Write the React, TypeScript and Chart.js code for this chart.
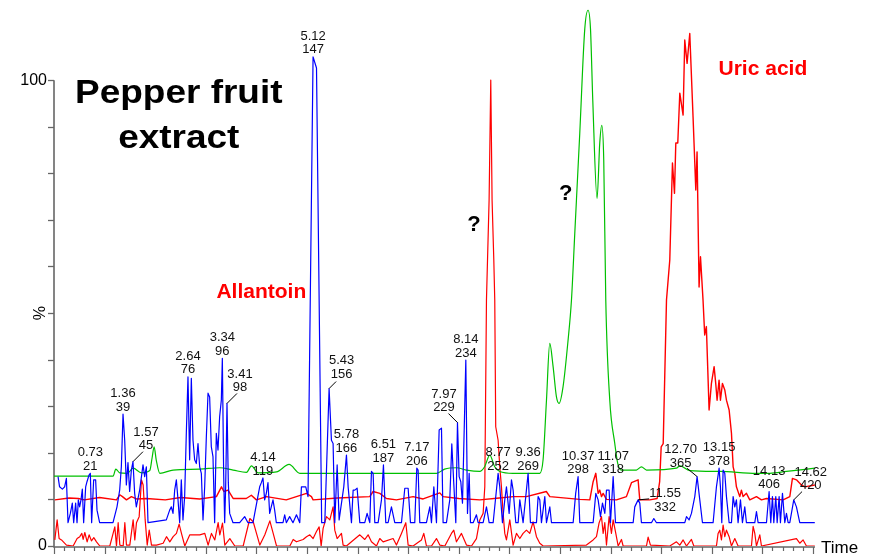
import React, { useEffect, useRef } from 'react';
import { Chart, registerables } from 'chart.js';

Chart.register(...registerables);

// ---- data: [time (min), relative intensity (%)] ----
const blueTrace: [number, number][] = [
  [0.08,14.9],[0.11,12.7],[0.165,12.2],[0.21,12.7],[0.245,14.5],[0.277,5.0],[0.323,7.0],[0.362,9.2],[0.389,5.0],[0.428,9.2],[0.455,5.0],[0.481,9.9],[0.507,8.4],[0.534,9.9],[0.56,12.2],[0.586,5.0],[0.626,12.7],[0.652,13.8],[0.692,15.2],[0.718,15.6],[0.744,5.0],[0.784,14.2],[0.823,14.2],[0.85,7.7],[0.902,5.0],
  [1.166,5.0],[1.245,8.4],[1.298,12.0],[1.331,17.0],[1.364,28.3],[1.397,22.7],[1.43,13.1],[1.462,17.9],[1.495,11.7],[1.529,16.3],[1.561,18.1],[1.594,11.3],[1.627,8.4],[1.693,12.0],[1.759,17.4],[1.792,14.9],[1.825,17.0],[1.858,5.0],
  [2.22,5.6],[2.286,7.7],[2.319,8.4],[2.352,7.0],[2.385,12.0],[2.418,14.2],[2.451,9.9],[2.484,5.0],[2.516,14.2],[2.549,5.6],[2.582,10.6],[2.615,24.2],[2.648,36.3],[2.681,18.5],[2.714,36.0],[2.747,22.7],[2.78,18.5],[2.813,17.7],[2.846,22.0],[2.879,17.0],[2.912,15.6],[2.945,5.6],[2.978,12.7],
  [3.011,23.5],[3.044,32.8],[3.076,32.0],[3.109,21.3],[3.142,19.2],[3.175,5.0],[3.208,24.2],[3.241,20.6],[3.274,27.8],[3.307,31.3],[3.327,40.3],[3.353,15.6],[3.373,5.0],[3.393,12.7],[3.419,30.6],[3.445,13.6],[3.472,7.0],[3.538,5.0],[3.67,5.0],[3.768,6.3],[3.834,5.0],[3.933,5.0],
  [4.065,12.7],[4.098,13.6],[4.13,14.6],[4.163,9.9],[4.196,11.3],[4.229,13.6],[4.262,7.0],[4.328,9.9],[4.361,7.7],[4.394,5.0],[4.526,5.0],[4.559,6.7],[4.592,5.0],[4.657,6.3],[4.723,5.0],[4.792,6.7],[4.857,5.0],[4.89,12.7],[4.976,12.7],
  [5.02,10.6],[5.12,105],[5.188,102.6],[5.29,5.0],[5.352,5.0],[5.437,33.8],[5.483,22.7],[5.516,22.0],[5.549,5.0],[5.596,17.4],[5.635,5.6],[5.727,12.7],[5.78,19.5],[5.813,12.7],[5.879,5.0],[5.912,12.0],[5.945,12.0],[5.991,12.4],
  [6.044,5.0],[6.142,5.0],[6.188,7.0],[6.241,5.0],[6.274,16.0],[6.307,15.6],[6.34,5.0],[6.406,5.0],[6.472,9.9],[6.511,17.4],[6.557,5.0],[6.603,5.0],[6.669,8.4],[6.735,5.0],[6.867,5.0],[6.933,12.4],[6.999,12.4],
  [7.045,5.0],[7.13,5.0],[7.17,16.7],[7.196,16.3],[7.229,5.0],[7.361,5.0],[7.427,8.4],[7.46,5.0],[7.507,12.7],[7.559,5.0],[7.612,24.9],[7.658,25.3],[7.69,5.0],[7.756,5.0],[7.822,9.9],[7.862,21.9],[7.901,13.4],[7.941,5.0],[7.974,26.5],
  [8.007,14.9],[8.04,13.8],[8.073,9.2],[8.139,39.9],[8.172,7.0],[8.205,15.6],[8.231,5.0],[8.284,5.0],[8.349,6.7],[8.382,5.0],[8.481,5.0],[8.547,8.4],[8.6,5.0],[8.679,5.0],[8.777,15.6],[8.81,12.7],[8.863,5.0],[8.909,9.9],[8.942,12.7],[8.995,7.0],
  [9.041,14.2],[9.074,12.0],[9.127,5.0],[9.173,5.0],[9.206,9.9],[9.271,5.0],[9.37,15.6],[9.416,5.0],[9.535,5.0],[9.568,10.6],[9.601,9.9],[9.634,5.0],[9.7,10.6],[9.733,5.0],[9.799,8.4],[9.832,5.0],
  [10.26,5.0],[10.31,11.3],[10.358,14.9],[10.391,5.0],[10.655,5.0],[10.708,11.3],[10.754,9.9],[10.8,6.3],[10.84,9.2],[10.886,7.0],[10.919,12.0],[10.971,12.0],[10.998,5.0],
  [11.051,14.9],[11.097,5.0],[11.446,5.0],[11.478,8.4],[11.544,9.9],[11.577,9.2],[11.61,5.0],[11.808,5.0],[11.854,5.9],[11.907,5.0],
  [12.467,5.0],[12.5,6.3],[12.552,5.6],[12.598,7.0],[12.664,10.6],[12.71,14.9],[12.763,9.9],[12.816,5.0],
  [13.026,5.0],[13.092,12.7],[13.145,16.7],[13.171,12.7],[13.198,5.0],[13.224,16.3],[13.257,15.6],[13.29,10.6],[13.343,5.0],[13.389,5.0],[13.422,10.6],[13.455,8.4],[13.487,9.9],[13.52,5.0],[13.567,9.9],[13.606,5.0],[13.652,8.4],[13.685,5.0],[13.85,5.0],[13.883,7.4],[13.916,5.0],
  [14.081,5.0],[14.133,11.7],[14.166,5.0],[14.199,10.6],[14.226,5.0],[14.265,10.6],[14.292,5.0],[14.331,10.6],[14.357,5.0],[14.397,11.3],[14.443,5.0],[14.476,7.0],[14.509,5.0],[14.542,5.0],[14.62,9.9],[14.673,8.4],[14.739,5.0],[15.036,5.0],
];

const greenTrace: [number, number][] = [
  [0.0,15.0],[1.168,15.0],[1.221,16.5],[1.30,15.7],[1.45,15.6],[1.563,16.7],[1.729,15.7],[1.893,16.2],[1.94,19.0],[1.979,21.3],[2.02,18.5],[2.091,15.6],[2.354,16.3],[2.881,16.5],[3.277,16.8],[3.54,16.3],[3.804,15.8],[3.903,17.2],[4.034,15.7],[4.397,15.9],[4.646,17.5],[4.858,15.6],[5.78,15.6],
  [7.56,15.6],[7.72,16.5],[7.955,16.8],[8.15,16.3],[8.415,16.0],[8.51,17.0],[8.613,19.5],[8.71,17.0],[8.81,16.0],[9.073,15.6],[9.60,15.6],[9.666,18.5],[9.733,31.3],[9.798,43.5],[9.864,38.5],[9.93,32.0],[9.982,30.6],
  [10.061,34.2],[10.16,44.2],[10.227,52.8],[10.292,67.0],[10.391,88.6],[10.49,111.0],[10.555,115.0],[10.603,111.0],[10.648,95.7],[10.733,74.6],[10.786,86.5],[10.826,90.3],[10.865,82.8],[10.905,52.8],[10.984,31.3],
  [11.083,22.0],[11.142,17.7],[11.215,16.3],[11.51,16.3],[11.61,17.0],[11.71,16.3],[12.30,16.7],[12.37,17.2],[12.565,16.2],[13.158,16.0],[13.88,15.6],[14.146,15.6],[14.476,16.0],[15.036,16.7],
];

const redUpperTrace: [number, number][] = [
  [0.016,9.9],[0.3,10.3],[0.479,10.2],[0.6,9.9],[0.9,10.4],[1.235,9.9],[1.30,11.0],[1.353,10.6],[1.432,9.9],[1.53,10.6],[1.63,10.1],[1.826,10.2],[2.2,9.9],[2.5,10.4],[2.88,10.1],
  [3.21,10.6],[3.31,12.7],[3.357,11.7],[3.44,12.0],[3.54,10.2],[3.80,10.2],[3.90,10.9],[4.0,9.9],[4.20,10.6],[4.59,9.9],[4.99,11.3],[5.088,10.6],[5.121,9.9],[5.6,10.3],
  [6.24,10.6],[6.307,11.7],[6.439,11.3],[6.57,10.2],[6.768,9.9],[7.097,10.6],[7.295,10.1],[7.625,11.4],[7.69,10.6],[8.0,10.2],[8.415,9.9],[8.8,10.3],[9.074,10.6],[9.337,10.6],[9.73,11.7],[9.8,10.6],
  [10.39,10.0],[10.589,9.9],[10.655,13.8],[10.708,15.6],[10.754,11.3],[10.787,12.0],[10.82,10.6],[10.853,11.3],[10.919,10.0],[11.116,9.9],[11.313,10.6],[11.413,13.6],[11.544,14.2],[11.577,9.9],[11.775,9.9],[11.92,10.2],[11.97,13.8],
  [12.0,21.3],[12.04,22.0],[12.105,52.8],[12.17,61.4],[12.223,82.2],[12.263,75.7],[12.289,86.5],[12.328,86.5],[12.368,97.2],[12.433,92.5],[12.466,108.6],[12.512,103.6],[12.565,110.0],[12.63,92.1],[12.684,76.4],[12.709,84.6],[12.749,55.6],[12.777,62.1],[12.827,52.8],[12.86,45.3],[12.893,47.1],[12.947,29.2],[12.993,34.9],
  [13.046,38.5],[13.078,34.9],[13.105,31.3],[13.144,35.6],[13.171,31.3],[13.211,34.9],[13.257,33.5],[13.29,31.3],[13.343,29.2],[13.389,24.2],[13.422,17.0],[13.455,15.6],[13.487,12.7],[13.553,10.6],[13.586,12.0],[13.619,10.6],[13.685,11.3],[13.751,9.9],[13.883,10.6],[13.982,9.9],
  [14.081,10.2],[14.41,9.9],[14.542,10.6],[14.594,14.5],[14.673,14.2],[14.772,13.1],[14.838,12.7],[15.036,13.1],
];

const redLowerTrace: [number, number][] = [
  [0.016,1.3],[0.062,5.6],[0.101,1.6],[0.148,1.3],[0.246,0.2],[0.378,0],[0.457,1.6],[0.51,2.0],[0.55,2.7],[0.576,1.4],[0.609,2.9],[0.655,0.9],[0.694,2.4],[0.74,1.1],[0.787,1.8],[0.84,0.9],[0.906,0],
  [1.103,0],[1.202,4.1],[1.235,0],[1.268,5.0],[1.301,0.2],[1.367,0],[1.4,5.0],[1.432,0.2],[1.498,0.2],[1.564,5.6],[1.597,1.3],[1.63,5.0],[1.683,6.3],[1.729,14.2],[1.762,13.1],[1.802,5.6],[1.842,0.2],[1.882,3.4],[1.927,0.2],
  [2.026,0.2],[2.157,0.6],[2.223,2.0],[2.289,0.9],[2.355,2.0],[2.42,2.7],[2.473,4.7],[2.519,2.7],[2.585,0],[2.684,2.4],[2.75,2.4],[2.881,2.4],[2.98,2.7],
  [3.046,0.2],[3.112,2.7],[3.178,1.3],[3.244,5.0],[3.277,2.4],[3.33,4.9],[3.376,0.2],[3.475,1.6],[3.574,0],[3.739,0],[3.871,5.9],[3.937,5.2],
  [4.002,2.7],[4.068,0.2],[4.167,2.4],[4.266,5.4],[4.332,2.7],[4.398,0],[4.661,0],[4.727,1.4],[4.792,0.9],[4.924,1.4],[4.99,2.0],
  [5.056,2.4],[5.121,1.6],[5.187,3.1],[5.24,4.1],[5.28,0],[5.319,3.8],[5.385,6.3],[5.451,5.6],[5.516,8.4],[5.549,3.4],[5.596,1.6],[5.681,2.7],[5.714,0.2],[5.78,0],[5.879,0.9],
  [6.044,2.4],[6.142,1.4],[6.208,2.4],[6.274,0.9],[6.373,0],[6.439,1.6],[6.505,0.9],[6.702,1.6],[6.768,0.2],[6.867,2.7],[6.953,5.0],[6.999,0.2],
  [7.097,0],[7.262,1.3],[7.308,2.7],[7.361,0],[7.46,0],[7.559,1.6],[7.625,0.2],[7.724,0],[7.855,2.7],[7.901,3.4],[7.954,0.9],
  [8.053,2.7],[8.152,0.2],[8.251,0],[8.349,1.6],[8.415,5.6],[8.481,7.0],[8.514,12.7],[8.547,52.8],[8.599,74.2],[8.632,100],[8.658,74.2],[8.692,61.4],[8.711,52.8],[8.73,25.6],[8.777,22.7],[8.81,17.0],[8.843,12.7],[8.876,7.0],[8.909,2.7],[8.942,1.3],
  [9.008,5.6],[9.074,0.2],[9.14,2.7],[9.206,1.6],[9.271,2.7],[9.337,3.4],[9.403,2.7],[9.469,5.2],[9.535,2.0],[9.601,0.6],[9.667,0],
  [10.523,0.2],[10.655,1.3],[10.721,2.0],[10.774,5.0],[10.82,6.3],[10.853,2.7],[10.886,5.0],[10.919,0.2],[10.971,6.3],
  [11.017,2.7],[11.051,5.6],[11.103,2.7],[11.15,0],[11.215,1.4],[11.248,0],[11.709,0],[11.742,1.9],[11.788,0.2],
  [12.17,0],[12.302,0.9],[12.368,0.2],[12.434,1.3],[12.5,0],[12.598,1.4],[12.645,0],
  [13.092,0],[13.125,2.7],[13.158,3.4],[13.191,1.3],[13.224,4.5],[13.257,2.0],[13.29,3.4],[13.343,2.0],[13.389,0],[13.455,1.6],[13.52,0],[13.784,0],[13.817,4.2],[13.85,2.7],[13.883,0],[13.949,2.4],[13.982,0],
  [14.673,1.6],[14.739,0.6],[14.805,1.3],[14.871,0],[15.036,0],
];

// peak annotations: retention time, scan number, anchor (time, %)
const peakTimes = ['0.73','1.36','1.57','2.64','3.34','3.41','4.14','5.12','5.43','5.78','6.51','7.17','7.97','8.14','8.77','9.36','10.37','11.07','11.55','12.70','13.15','14.13','14.62'];
const peakScans = ['21','39','45','76','96','98','119','147','156','166','187','206','229','234','252','269','298','318','332','365','378','406','420'];
const peakX = [0.718,1.364,1.561,2.648,3.327,3.419,4.13,5.12,5.437,5.78,6.511,7.17,7.974,8.139,8.777,9.37,10.358,11.051,11.544,12.71,13.145,14.133,14.62];
const peakY = [15.6,28.3,18.1,36.3,40.3,30.6,14.6,105,33.8,19.5,17.4,16.7,26.5,39.9,15.6,15.6,14.9,14.9,9.9,14.9,16.7,11.7,9.9];
// labels placed beside their peak with a short leader line: [index, text dx, scan-line dy, leader dx, leader dy]
const leaderLabels: [number, number, number, number, number][] = [
  [2, 13, -16, 10, -10],
  [5, 13, -16, 10, -10],
  [8, 12.5, -14.5, 7, -7],
  [12, -13.5, -15, -9, -9],
  [18, 27, 7.4, 11, -1],
  [19, -16.5, -13.3, -10, -8.3],
  [22, 17, -14.3, 8.3, -8.3],
];

const titleLines = ['Pepper fruit', 'extract'];
const titleAt: [number, number][] = [[2.466, 95.1], [2.466, 85.4]];
const compoundNames = ['Allantoin', 'Uric acid', '?', '?'];
const compoundAt: [number, number][] = [[4.097, 53.2], [14.01, 101.0], [8.30, 67.6], [10.115, 74.2]];
const compoundColors = ['#ff0000', '#ff0000', '#000000', '#000000'];
const compoundSizes = [21, 21, 22, 22];

const yLabelValues = [0, 100];
const yTickStep = 10;
const FONT = "'Liberation Sans', Arial, Helvetica, sans-serif";

function toXY(arr: [number, number][]) {
  return arr.map(([x, y]) => ({ x, y }));
}

function drawText(ctx: CanvasRenderingContext2D, text: string, x: number, y: number, font: string, color: string, sx = 1, baseline: CanvasTextBaseline = 'alphabetic') {
  ctx.save();
  ctx.translate(x, y);
  ctx.scale(sx, 1);
  ctx.font = font;
  ctx.fillStyle = color;
  ctx.textAlign = 'center';
  ctx.textBaseline = baseline;
  ctx.fillText(text, 0, 0);
  ctx.restore();
}

const axesPlugin = {
  id: 'msAxes',
  beforeDatasetsDraw(chart: any) {
    const { ctx, chartArea, scales } = chart;
    const xs = scales.x;
    const ys = scales.y;
    ctx.save();
    ctx.strokeStyle = '#666666';
    ctx.lineWidth = 1.6;
    ctx.beginPath();
    ctx.moveTo(chartArea.left, ys.getPixelForValue(100));
    ctx.lineTo(chartArea.left, chartArea.bottom + 1);
    ctx.lineTo(chartArea.right, chartArea.bottom + 1);
    ctx.stroke();
    // y-axis tick marks every 10 %
    ctx.lineWidth = 1.3;
    for (let v = 0; v <= 100; v += yTickStep) {
      const py = Math.round(ys.getPixelForValue(v)) + 0.5;
      ctx.beginPath();
      ctx.moveTo(chartArea.left - 6, py);
      ctx.lineTo(chartArea.left, py);
      ctx.stroke();
    }
    // x-axis tick marks (minor 0.2 min, major 1 min)
    ctx.lineWidth = 1.2;
    const n = Math.round((xs.max - xs.min) / 0.2);
    for (let i = 0; i <= n; i++) {
      const v = xs.min + i * 0.2;
      if (v > xs.max) break;
      const px = Math.round(xs.getPixelForValue(v)) + 0.5;
      const len = i % 5 === 0 ? 7 : 4;
      ctx.beginPath();
      ctx.moveTo(px, chartArea.bottom + 1);
      ctx.lineTo(px, chartArea.bottom + 1 + len);
      ctx.stroke();
    }
    ctx.restore();
  },
  afterDraw(chart: any) {
    const { ctx, chartArea, scales } = chart;
    const xs = scales.x;
    const ys = scales.y;
    titleLines.forEach((t, i) => {
      drawText(ctx, t, xs.getPixelForValue(titleAt[i][0]), ys.getPixelForValue(titleAt[i][1]), `bold 33px ${FONT}`, '#000', 1.12);
    });
    compoundNames.forEach((t, i) => {
      drawText(ctx, t, xs.getPixelForValue(compoundAt[i][0]), ys.getPixelForValue(compoundAt[i][1]), `bold ${compoundSizes[i]}px ${FONT}`, compoundColors[i]);
    });
    const font = `13px ${FONT}`;
    peakTimes.forEach((t, i) => {
      const px = xs.getPixelForValue(peakX[i]);
      const py = ys.getPixelForValue(peakY[i]);
      const ld = leaderLabels.find((l) => l[0] === i);
      let cx = px;
      let scanY = py - 7;
      if (ld) {
        cx = px + ld[1];
        scanY = py + ld[2];
        ctx.save();
        ctx.strokeStyle = '#000';
        ctx.lineWidth = 1;
        ctx.beginPath();
        ctx.moveTo(px, py);
        ctx.lineTo(px + ld[3], py + ld[4]);
        ctx.stroke();
        ctx.restore();
      }
      drawText(ctx, t, cx, scanY - 13.5, font, '#111', 1, 'middle');
      drawText(ctx, peakScans[i], cx, scanY, font, '#111', 1, 'middle');
    });
    ctx.save();
    ctx.translate(chartArea.left - 13, ys.getPixelForValue(50));
    ctx.rotate(-Math.PI / 2);
    ctx.font = `16px ${FONT}`;
    ctx.fillStyle = '#000';
    ctx.textAlign = 'center';
    ctx.textBaseline = 'middle';
    ctx.fillText('%', 0, 0);
    ctx.restore();
    ctx.save();
    ctx.font = `17px ${FONT}`;
    ctx.fillStyle = '#000';
    ctx.textAlign = 'left';
    ctx.textBaseline = 'alphabetic';
    ctx.fillText('Time', chartArea.right + 6, chartArea.bottom + 7);
    ctx.restore();
  },
};

export default function App() {
  const ref = useRef<HTMLCanvasElement | null>(null);
  useEffect(() => {
    if (!ref.current) return;
    const common = { pointRadius: 0, borderWidth: 1.2, fill: false, tension: 0 };
    const chart = new Chart(ref.current, {
      type: 'line',
      data: {
        datasets: [
          { ...common, label: 'blue', data: toXY(blueTrace), borderColor: '#0000ff' },
          { ...common, label: 'green', data: toXY(greenTrace), borderColor: '#00c000', cubicInterpolationMode: 'monotone' },
          { ...common, label: 'redUpper', data: toXY(redUpperTrace), borderColor: '#ff0000', borderWidth: 1.4 },
          { ...common, label: 'redLower', data: toXY(redLowerTrace), borderColor: '#ff0000' },
        ] as any,
      },
      options: {
        animation: false,
        responsive: false,
        devicePixelRatio: 1,
        layout: { padding: { left: 0, right: 60, top: 0, bottom: 0 } },
        plugins: { legend: { display: false }, tooltip: { enabled: false }, title: { display: false } },
        elements: { line: { borderJoinStyle: 'round' } },
        scales: {
          x: {
            type: 'linear',
            min: 0,
            max: 15.04,
            ticks: { display: false },
            grid: { display: false },
            border: { display: false },
            afterFit: (s: any) => { s.height = 9; },
          },
          y: {
            type: 'linear',
            min: 0,
            max: 117.2,
            ticks: {
              stepSize: yTickStep,
              maxTicksLimit: 30,
              autoSkip: false,
              padding: 7,
              color: '#000',
              font: { family: FONT, size: 16 },
              callback: (v: any) => (yLabelValues.includes(Number(v)) ? String(v) : ''),
            },
            grid: { display: false, drawOnChartArea: false, drawTicks: false },
            border: { display: false },
            afterBuildTicks: (s: any) => { s.ticks = s.ticks.filter((t: any) => t.value <= 100); },
            afterFit: (s: any) => { s.width = 54; s.paddingTop = 0; s.paddingBottom = 0; },
          },
        },
      } as any,
      plugins: [axesPlugin],
    });
    return () => chart.destroy();
  }, []);
  return (
    <div style={{ position: 'fixed', left: 0, top: 0, width: 875, height: 555, background: '#fff' }}>
      <canvas ref={ref} width={875} height={555} style={{ display: 'block' }} />
    </div>
  );
}
